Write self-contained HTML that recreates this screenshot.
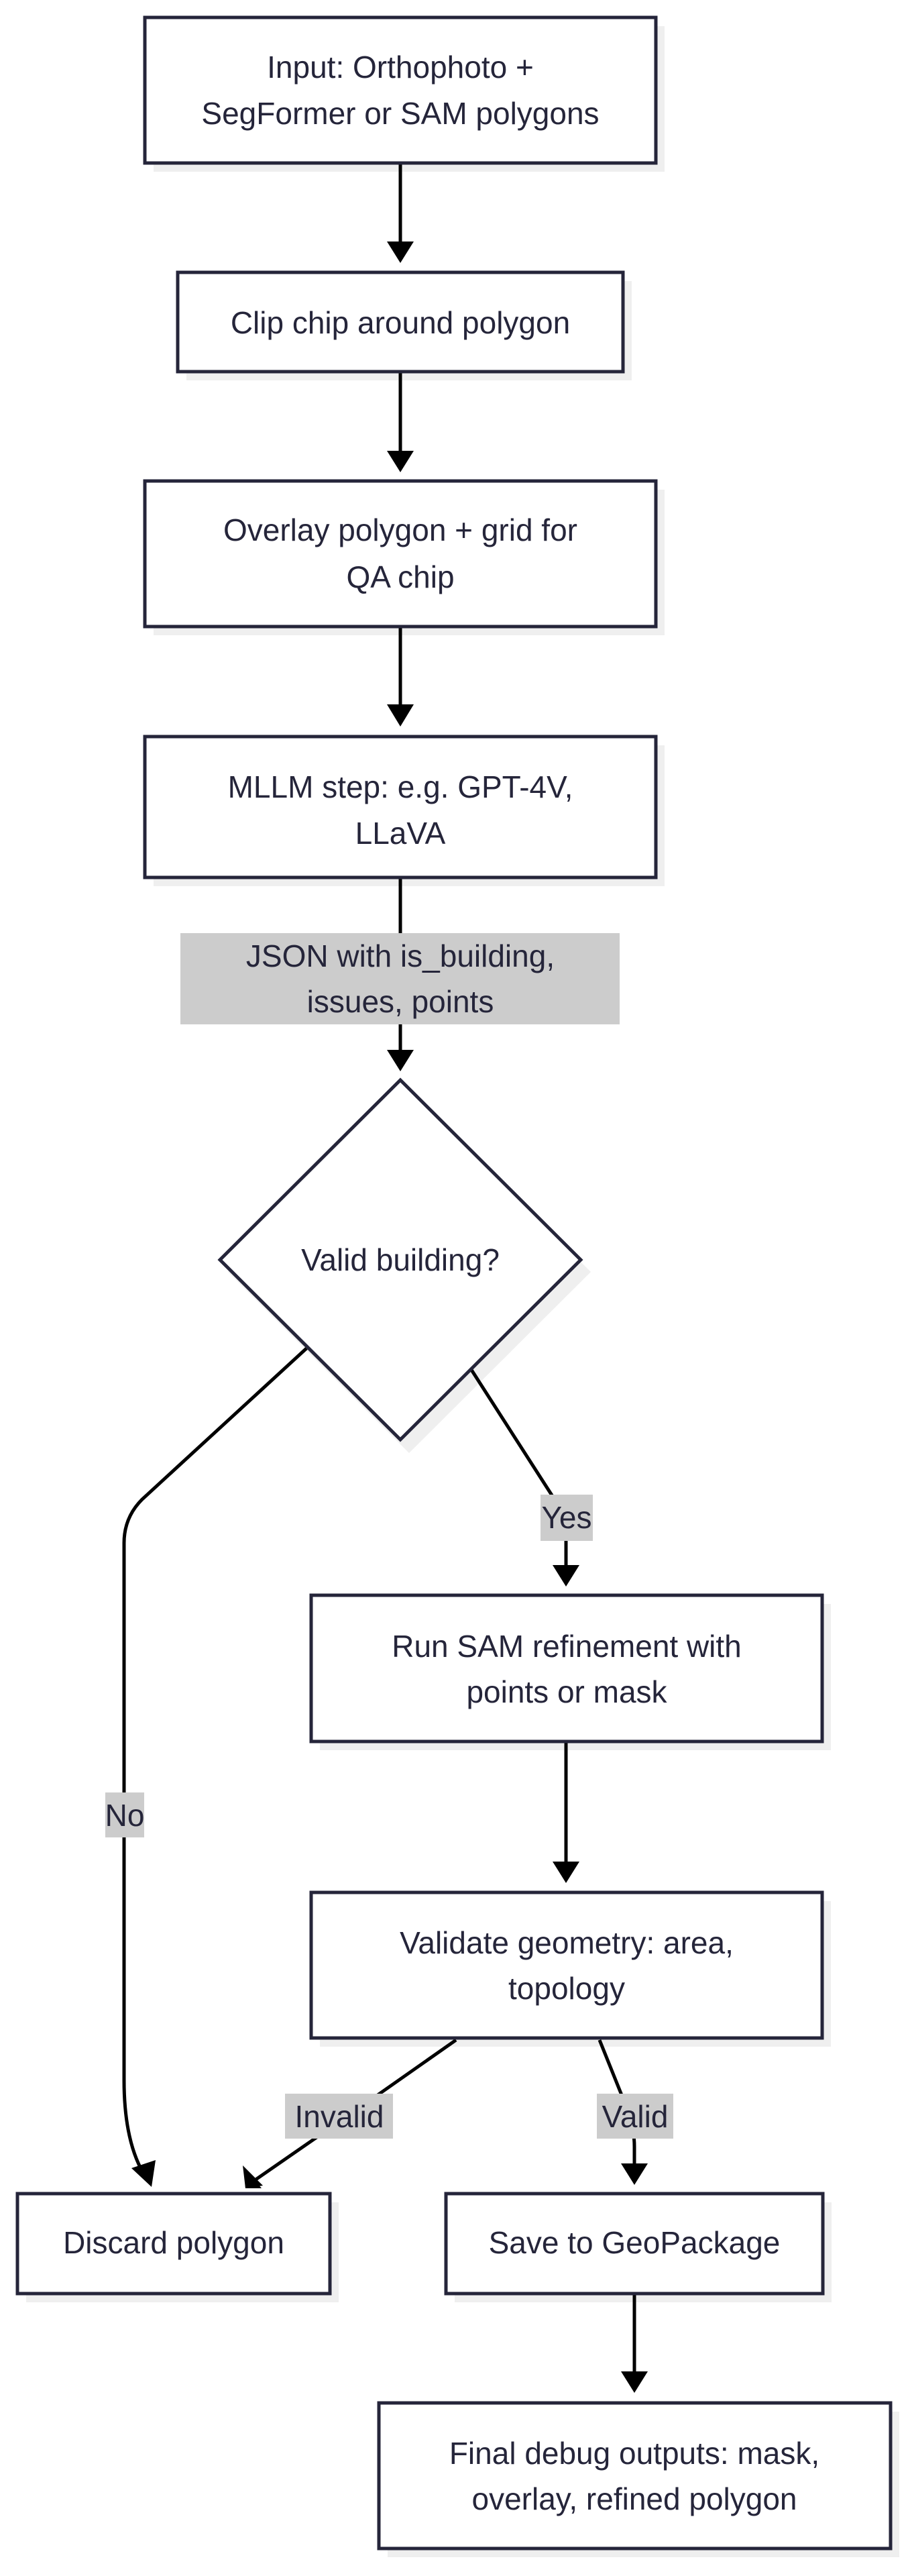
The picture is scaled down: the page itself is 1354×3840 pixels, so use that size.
<!DOCTYPE html>
<html><head><meta charset="utf-8"><style>
html,body{margin:0;padding:0;background:#fff;}
svg{display:block;}
text{font-family:"Liberation Sans",sans-serif;font-size:46px;fill:#25253a;text-anchor:middle;dominant-baseline:central;}
.b{fill:#fff;stroke:#25253a;stroke-width:5;}
.s{fill:#efefef;}
.e{fill:none;stroke:#000;stroke-width:5;}
.h{fill:#000;}
.l{fill:#ccc;}
</style></head><body>
<svg width="1354" height="3840" viewBox="0 0 1354 3840" xmlns="http://www.w3.org/2000/svg">
<!-- shadows -->
<rect class="s" x="229" y="39" width="762" height="217"/>
<rect class="s" x="278" y="419" width="664" height="148"/>
<rect class="s" x="229" y="730" width="762" height="217"/>
<rect class="s" x="229" y="1111" width="762" height="210"/>
<polygon class="s" points="610,1626 881,1896 610,2166 340,1896"/>
<rect class="s" x="477" y="2391" width="762" height="218"/>
<rect class="s" x="477" y="2834" width="762" height="217"/>
<rect class="s" x="39" y="3283" width="466" height="149"/>
<rect class="s" x="678" y="3283" width="562" height="149"/>
<rect class="s" x="578" y="3595" width="763" height="217"/>

<!-- edges -->
<line class="e" x1="597" y1="243" x2="597" y2="365"/>
<polygon class="h" points="577,360 617,360 597,392"/>
<line class="e" x1="597" y1="554" x2="597" y2="677"/>
<polygon class="h" points="577,672 617,672 597,704"/>
<line class="e" x1="597" y1="934" x2="597" y2="1055"/>
<polygon class="h" points="577,1050 617,1050 597,1083"/>
<line class="e" x1="597" y1="1308" x2="597" y2="1570"/>
<polygon class="h" points="577,1565 617,1565 597,1597"/>

<path class="e" d="M457,2010 L212,2235 Q185,2262 185,2300 L185,3101 Q185,3190 214,3240"/>
<polygon class="h" points="196,3232 232,3220 226,3260"/>
<path class="e" d="M703,2042 L823,2229 Q844,2262 844,2290 L844,2338"/>
<polygon class="h" points="824,2333 864,2333 844,2365"/>
<line class="e" x1="844" y1="2596" x2="844" y2="2780"/>
<polygon class="h" points="824,2775 864,2775 844,2807"/>
<path class="e" d="M680,3041 L556,3128 L380,3250"/>
<polygon class="h" points="362,3228 392,3258 366,3262 366,3262" />
<polygon class="h" points="364,3232 390,3262 366,3262"/>
<path class="e" d="M894,3041 L933,3138 Q946,3170 946,3200 L946,3230"/>
<polygon class="h" points="926,3225 966,3225 946,3257"/>
<line class="e" x1="946" y1="3419" x2="946" y2="3540"/>
<polygon class="h" points="926,3535 966,3535 946,3567"/>

<!-- boxes -->
<rect class="b" x="216" y="26" width="762" height="217"/>
<text x="597" y="100">Input: Orthophoto +</text>
<text x="597" y="169">SegFormer or SAM polygons</text>
<rect class="b" x="265" y="406" width="664" height="148"/>
<text x="597" y="481">Clip chip around polygon</text>
<rect class="b" x="216" y="717" width="762" height="217"/>
<text x="597" y="790">Overlay polygon + grid for</text>
<text x="597" y="860">QA chip</text>
<rect class="b" x="216" y="1098" width="762" height="210"/>
<text x="597" y="1173">MLLM step: e.g. GPT-4V,</text>
<text x="597" y="1242">LLaVA</text>

<rect class="l" x="269" y="1391" width="655" height="136"/>
<text x="597" y="1425">JSON with is_building,</text>
<text x="597" y="1493">issues, points</text>

<polygon class="b" points="597,1610 866,1878 597,2146 328,1878"/>
<text x="597" y="1878">Valid building?</text>

<rect class="l" x="806" y="2228" width="78" height="69"/>
<text x="845" y="2262">Yes</text>
<rect class="l" x="157" y="2672" width="58" height="67"/>
<text x="186" y="2706">No</text>

<rect class="b" x="464" y="2378" width="762" height="218"/>
<text x="845" y="2454">Run SAM refinement with</text>
<text x="845" y="2522">points or mask</text>
<rect class="b" x="464" y="2821" width="762" height="217"/>
<text x="845" y="2896">Validate geometry: area,</text>
<text x="845" y="2964">topology</text>

<rect class="l" x="425" y="3121" width="161" height="67"/>
<text x="506" y="3155">Invalid</text>
<rect class="l" x="890" y="3121" width="114" height="67"/>
<text x="947" y="3155">Valid</text>

<rect class="b" x="26" y="3270" width="466" height="149"/>
<text x="259" y="3343">Discard polygon</text>
<rect class="b" x="665" y="3270" width="562" height="149"/>
<text x="946" y="3343">Save to GeoPackage</text>
<rect class="b" x="565" y="3582" width="763" height="217"/>
<text x="946" y="3657">Final debug outputs: mask,</text>
<text x="946" y="3725">overlay, refined polygon</text>
</svg>
</body></html>
